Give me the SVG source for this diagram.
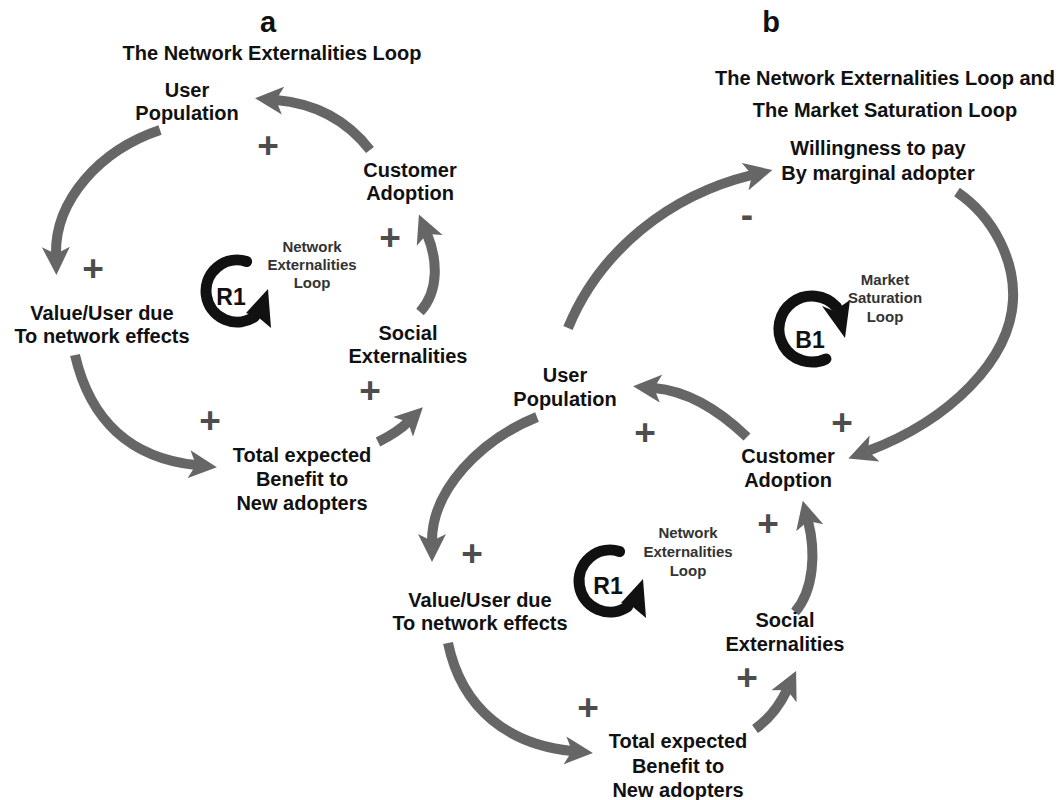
<svg xmlns="http://www.w3.org/2000/svg" width="1062" height="800" viewBox="0 0 1062 800">
<style>
text{font-family:"Liberation Sans",Arial,sans-serif;font-weight:bold;text-anchor:middle}
.node{font-size:20px;fill:#111}
.title{font-size:20px;fill:#111}
.panel{font-size:29px;fill:#111}
.small{font-size:15px;fill:#333}
.loopid{font-size:23px;fill:#111}
.sign{font-size:37px;fill:#4d4d4d}
.conn{fill:none;stroke:#666;stroke-width:10;marker-end:url(#ah)}
.loop{fill:none;stroke:#111;stroke-width:11;stroke-linecap:round}
.loophead{fill:#111}
</style>
<defs>
<marker id="ah" viewBox="0 -15 30 30" markerWidth="30" markerHeight="30" refX="7" refY="0" orient="auto" markerUnits="userSpaceOnUse">
<path d="M0,-14 L28,0 L0,14 L7,0 Z" fill="#666"/>
</marker>
</defs>
<rect width="1062" height="800" fill="#fff"/>

<g id="titles">
<text class="panel" x="268" y="32">a</text>
<text class="title" x="272" y="60">The Network Externalities Loop</text>
<text class="panel" x="771" y="32">b</text>
<text class="title" x="885" y="85">The Network Externalities Loop and</text>
<text class="title" x="885" y="117">The Market Saturation Loop</text>
</g>

<g id="connectors">
<path class="conn" d="M370,150 Q335,105 276,100"/>
<path class="conn" d="M160,130 C100,150 55,200 56,254"/>
<path class="conn" d="M75,355 C90,420 130,458 196,465"/>
<path class="conn" d="M378,442 Q398,432 408,422"/>
<path class="conn" d="M420,312 C440,290 437,258 427,234"/>
<path class="conn" d="M747,437 Q700,392 654,388"/>
<path class="conn" d="M537,417 C480,440 432,490 432,541"/>
<path class="conn" d="M448,643 C462,710 510,745 572,751"/>
<path class="conn" d="M755,729 Q775,715 787,690"/>
<path class="conn" d="M795,612 C814,590 816,552 808,521"/>
<path class="conn" d="M568,328 C600,250 670,195 752,175"/>
<path class="conn" d="M957,192 C995,218 1015,262 1013,300 C1010,360 950,420 868,451"/>
</g>

<g id="polarities">
<text class="sign" x="268" y="158">+</text>
<text class="sign" x="93" y="281">+</text>
<text class="sign" x="210" y="433">+</text>
<text class="sign" x="370" y="403">+</text>
<text class="sign" x="390" y="250">+</text>
<text class="sign" x="645" y="445">+</text>
<text class="sign" x="842" y="435">+</text>
<text class="sign" x="472" y="566">+</text>
<text class="sign" x="768" y="536">+</text>
<text class="sign" x="747" y="690">+</text>
<text class="sign" x="588" y="720">+</text>
<text class="sign" x="747" y="227">-</text>
</g>

<g id="a-user-population"><text class="node" x="187" y="97">User</text><text class="node" x="187" y="120">Population</text></g>
<g id="a-customer-adoption"><text class="node" x="410" y="177">Customer</text><text class="node" x="410" y="200">Adoption</text></g>
<g id="a-value-user"><text class="node" x="102" y="320">Value/User due</text><text class="node" x="102" y="343">To network effects</text></g>
<g id="a-social-externalities"><text class="node" x="408" y="340">Social</text><text class="node" x="408" y="363">Externalities</text></g>
<g id="a-total-benefit"><text class="node" x="302" y="462">Total expected</text><text class="node" x="302" y="486">Benefit to</text><text class="node" x="302" y="510">New adopters</text></g>

<g id="a-loop-r1">
<path class="loop" d="M246.6,261.5 A31,31 0 1 0 254.8,316.4"/>
<polygon class="loophead" points="268,289 271,328 258,317 246,313"/>
<text class="loopid" x="231" y="305">R1</text>
<text class="small" x="312" y="252">Network</text>
<text class="small" x="312" y="270">Externalities</text>
<text class="small" x="312" y="288">Loop</text>
</g>

<g id="b-willingness"><text class="node" x="878" y="155">Willingness to pay</text><text class="node" x="878" y="180">By marginal adopter</text></g>
<g id="b-user-population"><text class="node" x="565" y="382">User</text><text class="node" x="565" y="406">Population</text></g>
<g id="b-customer-adoption"><text class="node" x="788" y="463">Customer</text><text class="node" x="788" y="487">Adoption</text></g>
<g id="b-value-user"><text class="node" x="480" y="607">Value/User due</text><text class="node" x="480" y="630">To network effects</text></g>
<g id="b-social-externalities"><text class="node" x="785" y="627">Social</text><text class="node" x="785" y="651">Externalities</text></g>
<g id="b-total-benefit"><text class="node" x="678" y="748">Total expected</text><text class="node" x="678" y="773">Benefit to</text><text class="node" x="678" y="797">New adopters</text></g>

<g id="b-loop-b1">
<path class="loop" d="M825.9,358.9 A33,33 0 1 1 836.5,307"/>
<polygon class="loophead" points="845,338 822,306 834,311 850,300"/>
<text class="loopid" x="810" y="348">B1</text>
<text class="small" x="885" y="285">Market</text>
<text class="small" x="885" y="303">Saturation</text>
<text class="small" x="885" y="322">Loop</text>
</g>

<g id="b-loop-r1">
<path class="loop" d="M619.6,551.5 A31,31 0 1 0 627.8,606.4"/>
<polygon class="loophead" points="643,579 646,618 633,607 621,603"/>
<text class="loopid" x="608" y="594">R1</text>
<text class="small" x="688" y="538">Network</text>
<text class="small" x="688" y="557">Externalities</text>
<text class="small" x="688" y="576">Loop</text>
</g>
</svg>
